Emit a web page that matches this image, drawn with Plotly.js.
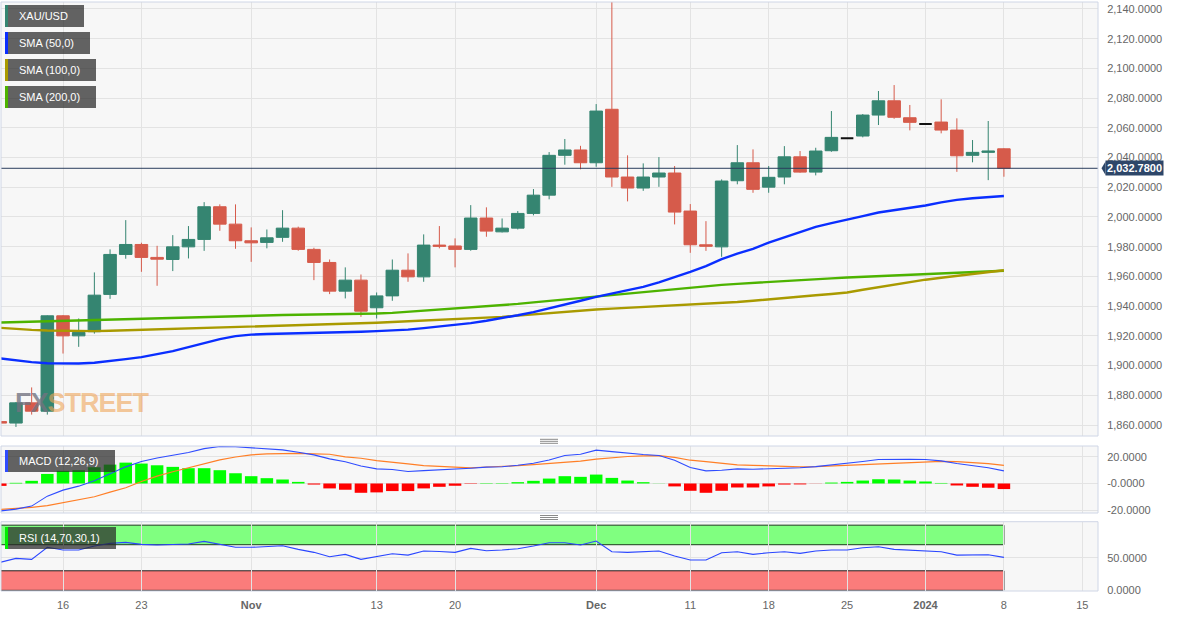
<!DOCTYPE html>
<html>
<head>
<meta charset="utf-8">
<script src="https://cdn.plot.ly/plotly-3.0.1.min.js"></script>
<style>
html,body{margin:0;padding:0;background:#ffffff;}
#chart{width:1182px;height:617px;}
</style>
</head>
<body>
<div id="chart"></div>
<script>
// ---------------- DATA ----------------
const dates = ['2023-10-10','2023-10-11','2023-10-12','2023-10-13','2023-10-16','2023-10-17','2023-10-18','2023-10-19','2023-10-20','2023-10-23','2023-10-24','2023-10-25','2023-10-26','2023-10-27','2023-10-30','2023-10-31',
'2023-11-01','2023-11-02','2023-11-03','2023-11-06','2023-11-07','2023-11-08','2023-11-09','2023-11-10','2023-11-13','2023-11-14','2023-11-15','2023-11-16','2023-11-17','2023-11-20','2023-11-21','2023-11-22','2023-11-23','2023-11-24','2023-11-27','2023-11-28','2023-11-29','2023-11-30',
'2023-12-01','2023-12-04','2023-12-05','2023-12-06','2023-12-07','2023-12-08','2023-12-11','2023-12-12','2023-12-13','2023-12-14','2023-12-15','2023-12-18','2023-12-19','2023-12-20','2023-12-21','2023-12-22','2023-12-25','2023-12-26','2023-12-27','2023-12-28','2023-12-29',
'2024-01-01','2024-01-02','2024-01-03','2024-01-04','2024-01-05','2024-01-08'];

const openPx = [1862.3,1861.3,1874.9,1869.3,1933.5,1920.0,1922.8,1947.9,1974.8,1981.5,1972.8,1971.4,1979.9,1984.9,2006.9,1995.2,
1984.0,1982.9,1986.3,1992.5,1978.2,1969.4,1950.1,1957.5,1938.9,1946.9,1964.2,1959.7,1981.1,1980.5,1978.2,1999.3,1990.0,1992.5,2002.4,2014.7,2041.5,2045.1,
2036.5,2072.5,2026.9,2019.5,2026.9,2029.6,2004.0,1981.3,1979.9,2024.4,2036.5,2020.1,2026.9,2040.5,2030.2,2044.6,2053.0,2054.5,2068.6,2078.2,2066.8,
2062.6,2063.9,2058.5,2041.5,2043.5,2045.9];

const highPx = [1866.5,1875.5,1885.3,1933.8,1934.0,1931.7,1962.7,1978.2,1997.9,1982.7,1980.6,1987.8,1993.9,2010.0,2008.5,2008.5,
1993.0,1991.6,2004.6,1993.5,1979.3,1971.4,1966.1,1961.3,1949.2,1971.4,1975.5,1988.3,1993.9,1985.6,2008.0,2006.5,1999.0,2004.0,2018.8,2043.7,2052.5,2047.9,
2076.0,2146.0,2041.5,2036.1,2040.3,2034.3,2008.7,1997.2,2025.3,2048.4,2045.5,2034.3,2047.7,2044.4,2046.6,2071.3,2053.0,2069.3,2084.8,2088.8,2075.4,
2062.6,2079.2,2066.4,2051.8,2064.6,2046.3];

const lowPx = [1850.0,1858.7,1867.0,1867.0,1908.1,1912.6,1921.5,1944.9,1971.9,1963.1,1953.7,1963.6,1972.1,1977.2,1990.7,1978.6,
1969.8,1978.9,1983.3,1977.3,1957.5,1948.1,1945.2,1932.8,1931.7,1943.6,1956.4,1956.4,1978.9,1966.1,1977.3,1986.7,1989.6,1991.6,2001.1,2011.9,2035.2,2032.1,
2033.8,2020.3,2010.5,2017.6,2020.3,1995.0,1975.9,1977.2,1973.2,2022.0,2016.3,2016.3,2022.0,2029.8,2028.0,2043.9,2053.0,2053.6,2061.9,2066.1,2058.3,
2062.6,2056.3,2030.4,2036.8,2024.8,2027.1];

const closePx = [1861.3,1874.9,1869.3,1933.5,1920.0,1922.3,1947.4,1974.8,1981.5,1972.8,1971.6,1979.9,1984.9,2006.9,1995.2,1984.0,
1982.6,1986.0,1992.5,1978.2,1969.4,1950.1,1957.5,1936.6,1946.9,1964.2,1959.7,1981.1,1980.3,1978.2,1999.3,1990.5,1992.5,2002.4,2014.7,2041.5,2045.1,2036.5,
2071.3,2026.9,2019.5,2026.9,2029.6,2003.3,1981.3,1980.3,2024.2,2036.5,2018.6,2026.7,2040.5,2030.2,2044.4,2053.6,2053.0,2068.6,2078.2,2067.1,2063.7,
2062.6,2058.5,2041.2,2043.5,2044.4,2032.78];

const sma50 = [1904.8,1903.3,1902.3,1901.6,1901.4,1901.4,1901.9,1903.0,1904.3,1905.7,1907.7,1909.7,1912.4,1915.1,1917.8,1919.8,
1920.8,1921.2,1921.4,1921.6,1921.8,1922.1,1922.5,1922.8,1923.2,1923.6,1924.2,1925.2,1926.2,1927.2,1928.6,1930.2,1931.9,1933.9,1936.0,1938.7,1941.3,1943.6,
1946.2,1948.5,1950.5,1953.0,1956.0,1959.3,1963.1,1967.0,1971.6,1975.3,1978.5,1982.8,1986.5,1990.0,1993.4,1995.9,1998.0,2000.6,2003.0,2004.6,2006.0,
2007.7,2009.8,2011.5,2012.6,2013.4,2014.1];

const sma100 = [1925.4,1924.6,1924.0,1923.6,1923.4,1923.3,1923.2,1923.4,1923.7,1924.0,1924.3,1924.6,1924.9,1925.2,1925.5,1925.8,
1926.0,1926.3,1926.5,1926.8,1927.2,1927.6,1927.9,1928.3,1928.8,1929.3,1929.8,1930.3,1930.7,1931.0,1931.6,1932.2,1932.8,1933.6,1934.5,1935.3,1936.1,1937.0,
1937.7,1938.3,1938.8,1939.3,1939.8,1940.3,1940.9,1941.5,1942.0,1942.8,1943.6,1944.4,1945.3,1946.3,1947.3,1948.2,1949.2,1951.0,1952.8,1954.6,1956.4,
1957.8,1959.1,1960.4,1961.7,1963.0,1964.2];

const sma200 = [1929.0,1929.3,1929.5,1929.8,1930.0,1930.3,1930.5,1930.8,1931.2,1931.5,1931.9,1932.2,1932.6,1932.9,1933.2,1933.4,
1933.6,1933.8,1934.0,1934.2,1934.3,1934.5,1934.7,1934.8,1935.0,1935.5,1936.2,1936.9,1937.6,1938.3,1939.0,1939.8,1940.6,1941.5,1942.5,1943.5,1944.4,1945.2,
1946.3,1947.4,1948.5,1949.5,1950.5,1951.5,1952.6,1953.6,1954.3,1955.0,1955.7,1956.3,1956.9,1957.5,1958.0,1958.7,1959.3,1959.7,1960.1,1960.5,1960.9,
1961.4,1961.9,1962.4,1962.9,1963.4,1963.8];

const macdLine = [-20.7,-19.3,-17.0,-9.5,-5.0,-2.0,2.0,7.5,12.5,16.5,19.2,21.3,23.3,26.2,27.8,27.6,
27.0,26.3,25.3,23.5,21.5,18.5,16.3,13.2,11.0,10.5,9.0,9.7,10.2,10.5,11.5,12.3,12.6,13.7,15.2,17.7,21.0,22.0,
25.1,24.0,22.7,21.8,21.0,17.5,12.0,9.5,10.0,11.0,10.7,11.0,11.7,11.8,12.7,13.9,15.0,16.5,18.0,18.3,18.2,
18.0,17.0,15.0,13.5,11.8,9.5];

const signalLine = [-19.5,-19.0,-18.0,-16.7,-14.5,-12.0,-10.0,-6.5,-3.2,1.5,5.5,8.8,11.8,14.7,17.8,19.9,
21.5,22.3,22.5,22.6,22.3,22.0,20.0,19.0,17.2,16.2,14.7,13.4,12.7,12.2,11.8,12.4,12.8,13.4,14.2,15.0,15.9,16.8,
18.3,19.5,20.3,20.8,20.9,19.7,17.5,16.5,15.5,14.0,13.7,13.2,12.5,12.5,12.7,13.2,13.8,14.3,14.8,15.3,16.0,
16.5,16.6,16.5,16.0,15.0,13.7];

const macdHist = [-1.8,0.5,2.0,7.2,9.5,10.0,12.2,14.2,15.7,15.0,13.7,12.5,11.5,11.5,10.0,7.7,
5.5,4.0,3.0,1.2,-0.8,-3.7,-4.7,-7.0,-6.7,-5.7,-5.7,-3.7,-2.5,-1.7,-0.3,0.3,0.3,1.0,2.0,3.7,5.5,5.0,
6.7,4.2,2.2,1.0,0.1,-2.2,-5.5,-7.0,-5.5,-3.0,-3.0,-2.2,-0.8,-0.7,-0.1,0.7,1.2,2.2,3.2,3.0,2.2,
1.5,0.4,-1.5,-2.5,-3.2,-4.2];

const rsi = [43,49,47.5,66,61.8,61.8,68,72,73.6,70.5,69.5,70.5,71,75.1,71,66,
66,66.9,68.4,62.9,58.3,51.5,55.2,47.5,51.5,56.1,54.1,60.3,59.5,58.3,64.4,60.7,61.8,63.8,68,73,73,69.5,
75.6,59.2,58.3,59.2,60.3,52.6,46.5,46.5,57.7,59.2,55.2,57.7,59.2,56.7,60.3,61.8,61.8,65.4,66.9,62.9,61.8,
60.7,59.2,54.1,54.5,54.5,50.6];

const tickDates  = ['2023-10-16','2023-10-23','2023-11-01','2023-11-13','2023-11-20','2023-12-01','2023-12-11','2023-12-18','2023-12-25','2024-01-01','2024-01-08','2024-01-15'];
const tickLabels = ['16','23','<b>Nov</b>','13','20','<b>Dec</b>','11','18','25','<b>2024</b>','8','15'];
const priceTicks = [1860,1880,1900,1920,1940,1960,1980,2000,2020,2040,2060,2080,2100,2120,2140];
const macdTickVals = [-20,0,20];
const macdTickText = ['-20.0000','-0.0000','20.0000'];
const rsiTickVals = [0,50];
const rsiUpper = 70, rsiLower = 30, rsiTop = 100;
const seriesNames = ['XAU/USD','SMA (50,0)','SMA (100,0)','SMA (200,0)'];
const macdName = 'MACD (12,26,9)';
const rsiName = 'RSI (14,70,30,1)';

// ---------------- STYLE / GEOMETRY ----------------
const W = 1182, H = 617, ML = 1, MR = 84, MT = 2, MB = 26;
const PW = W - ML - MR, PH = H - MT - MB;
const px = x => (x - ML) / PW;
const py = y => (MT + PH - y) / PH;
const noon = d => d + ' 12:00';

const UP = '#358571', DOWN = '#d65b4b';
const C50 = '#0a2eff', C100 = '#a99a00', C200 = '#4db300';
const gridC = '#e3e3e3';
const borderC = '#cfd6e6';
const lastClose = closePx[closePx.length - 1];

const flat = dates.map((d, i) => highPx[i] === lowPx[i]);
const pick = (arr, want) => arr.filter((_, i) => flat[i] === want);
const X = dates.map(noon);

const traces = [
  {type:'candlestick', x: pick(X,false), open: pick(openPx,false), high: pick(highPx,false), low: pick(lowPx,false), close: pick(closePx,false),
   xaxis:'x', yaxis:'y', whiskerwidth:0, hoverinfo:'skip',
   increasing:{line:{color:UP,width:1}, fillcolor:UP},
   decreasing:{line:{color:DOWN,width:1}, fillcolor:DOWN}},
  {type:'candlestick', x: pick(X,true), open: pick(openPx,true), high: pick(highPx,true), low: pick(lowPx,true), close: pick(closePx,true),
   xaxis:'x', yaxis:'y', whiskerwidth:0, hoverinfo:'skip',
   increasing:{line:{color:'#111',width:2}, fillcolor:'#111'},
   decreasing:{line:{color:'#111',width:2}, fillcolor:'#111'}},
  {type:'scatter', mode:'lines', x:X, y:sma200, xaxis:'x', yaxis:'y', line:{color:C200,width:2.4}, hoverinfo:'skip'},
  {type:'scatter', mode:'lines', x:X, y:sma100, xaxis:'x', yaxis:'y', line:{color:C100,width:2.4}, hoverinfo:'skip'},
  {type:'scatter', mode:'lines', x:X, y:sma50, xaxis:'x', yaxis:'y', line:{color:C50,width:2.4}, hoverinfo:'skip'},
  {type:'bar', x:X, y:macdHist, xaxis:'x', yaxis:'y2', marker:{color: macdHist.map(v => v >= 0 ? '#00ff00' : '#ff0000'), line:{width:0}}, hoverinfo:'skip'},
  {type:'scatter', mode:'lines', x:X, y:signalLine, xaxis:'x', yaxis:'y2', line:{color:'#ff7f27',width:1.2}, hoverinfo:'skip'},
  {type:'scatter', mode:'lines', x:X, y:macdLine, xaxis:'x', yaxis:'y2', line:{color:'#2f4cff',width:1.1}, hoverinfo:'skip'},
  {type:'scatter', mode:'lines', x:X, y:rsi, xaxis:'x', yaxis:'y3', line:{color:'#2a46ff',width:1.1}, hoverinfo:'skip'}
];

const shapes = [];
const annotations = [];

// watermark
annotations.push({xref:'paper', yref:'paper', x:px(13), y:py(403), xanchor:'left', yanchor:'middle', showarrow:false,
  text:'<b><span style="color:rgba(115,115,128,0.8);letter-spacing:-1px">FX</span><span style="color:rgba(240,165,90,0.62);letter-spacing:-1px">STREET</span></b>',
  font:{size:27, family:'"Liberation Sans Narrow", "Liberation Sans", sans-serif'}});

// RSI bands
shapes.push({type:'rect', xref:'x', yref:'y3', x0:'2023-10-09 12:00', x1:X[X.length-1], y0:rsiUpper, y1:rsiTop,
  fillcolor:'#80ff80', line:{color:'#1d3b1d', width:1}, layer:'below'});
shapes.push({type:'rect', xref:'x', yref:'y3', x0:'2023-10-09 12:00', x1:X[X.length-1], y0:0, y1:rsiLower,
  fillcolor:'#fb7c7b', line:{color:'#222', width:1}, layer:'below'});

// current price line + pointer
shapes.push({type:'line', xref:'paper', yref:'y', x0:0, x1:1, y0:lastClose, y1:lastClose, line:{color:'#2a3d5c', width:1}});
shapes.push({type:'path', xref:'paper', yref:'y',
  path:`M ${px(1101.5)},${lastClose} L ${px(1105.5)},${lastClose+4.6} L ${px(1105.5)},${lastClose-4.6} Z`,
  fillcolor:'#2d4669', line:{width:0}});
annotations.push({xref:'paper', yref:'y', x:px(1105), y:lastClose, xanchor:'left', yanchor:'middle', showarrow:false,
  text:'<b>' + lastClose.toLocaleString('en-US',{minimumFractionDigits:4, maximumFractionDigits:4}) + '</b>',
  bgcolor:'#2d4669', borderpad:1, font:{color:'#ffffff', size:11, family:'"Liberation Sans", Arial, sans-serif'}});

// pane borders
[[436,2],[513,446],[591,521.7]].forEach(([b,t]) => {
  shapes.push({type:'rect', xref:'paper', yref:'paper', x0:0, x1:1, y0:py(b), y1:py(t), line:{color:borderC, width:1}, fillcolor:'rgba(0,0,0,0)', layer:'above'});
});

// pane handles
[439.3,441.3,443.3, 515.5,517.5,519.5].forEach(y => {
  shapes.push({type:'line', xref:'paper', yref:'paper', x0:px(540), x1:px(558), y0:py(y), y1:py(y), line:{color:'#8a8a8a', width:1}});
});

// label boxes
const boxFill = 'rgba(40,40,40,0.72)';
function labelBox(x0, x1, y0, y1, stripe, text) {
  shapes.push({type:'rect', xref:'paper', yref:'paper', x0:px(x0), x1:px(x1), y0:py(y1), y1:py(y0), fillcolor:boxFill, line:{width:0}, layer:'above'});
  shapes.push({type:'rect', xref:'paper', yref:'paper', x0:px(x0), x1:px(x0+3), y0:py(y1), y1:py(y0), fillcolor:stripe, line:{width:0}, layer:'above'});
  annotations.push({xref:'paper', yref:'paper', x:px(17), y:py((y0+y1)/2), xanchor:'left', yanchor:'middle', showarrow:false,
    text:text, font:{color:'#ffffff', size:11, family:'"Liberation Sans", Arial, sans-serif'}});
}
labelBox(5, 84, 5, 27, UP, seriesNames[0]);
labelBox(5, 90, 32, 54, C50, seriesNames[1]);
labelBox(5, 96, 59, 81, C100, seriesNames[2]);
labelBox(5, 96, 86, 108, C200, seriesNames[3]);
labelBox(5, 115, 450, 472, '#2f4cff', macdName);
labelBox(5, 116, 527, 549, '#00ee00', rsiName);

const yCommon = {side:'right', anchor:'x', gridcolor:gridC, zeroline:false, showline:false, ticks:'outside', ticklen:6,
  tickcolor:'rgba(0,0,0,0)', tickfont:{size:11, color:'#666'}, fixedrange:true, tickmode:'array'};

const layout = {
  width:W, height:H, margin:{l:ML, r:MR, t:MT, b:MB, pad:0},
  paper_bgcolor:'#ffffff', plot_bgcolor:'#f7f7f7', showlegend:false,
  boxgap:0.2, boxgroupgap:0, bargap:0.2,
  font:{family:'"Liberation Sans", Arial, sans-serif', size:11, color:'#555'},
  xaxis:{type:'date', anchor:'y3', range:['2023-10-10 13:06','2024-01-16 12:00'], rangebreaks:[{bounds:['sat','mon']}],
    tickmode:'array', tickvals:tickDates.map(noon), ticktext:tickLabels, showgrid:true, gridcolor:gridC,
    ticks:'outside', ticklen:4, tickcolor:'rgba(0,0,0,0)',
    tickfont:{size:11, color:'#666'}, rangeslider:{visible:false}, zeroline:false, showline:false, fixedrange:true},
  yaxis:Object.assign({}, yCommon, {domain:[py(436),1], range:[1852.6,2144.7], tickvals:priceTicks, tickformat:',.4f'}),
  yaxis2:Object.assign({}, yCommon, {domain:[py(513),py(446)], range:[-22.2,28.2], tickvals:macdTickVals, ticktext:macdTickText}),
  yaxis3:Object.assign({}, yCommon, {domain:[0,py(521.7)], range:[-1,105.3], tickvals:rsiTickVals, tickformat:'.4f'}),
  shapes:shapes, annotations:annotations
};

Plotly.newPlot('chart', traces, layout, {staticPlot:true, displayModeBar:false});
</script>
</body>
</html>
